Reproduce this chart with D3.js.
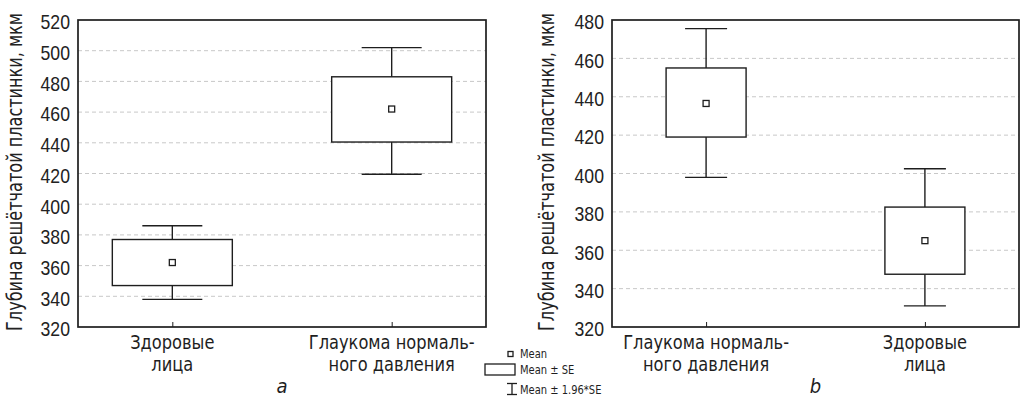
<html>
<head>
  <meta charset="utf-8">
  <script src="https://cdn.jsdelivr.net/npm/d3@7"></script>
</head>
<style>
  body { margin: 0; background: #fff; }
  svg { font-family: "DejaVu Sans Condensed", "Liberation Sans Narrow", "Roboto", sans-serif; }
  .grid line { stroke: #c8c8c8; stroke-dasharray: 4,3; }
  .ylab, .tick text { fill: #222; }
</style>
<body>
  <svg id="chart" width="1024" height="399"></svg>

  <script type="text/javascript">
    // panel a
    var labelsA = [["Здоровые", "лица"], ["Глаукома нормаль-", "ного давления"]];
    var meanA = [362, 462];
    var seLowA = [347, 440.5];
    var seHighA = [377, 483];
    var ciLowA = [338, 419.5];
    var ciHighA = [386, 502];
    var ticksA = [320, 340, 360, 380, 400, 420, 440, 460, 480, 500, 520];

    // panel b
    var labelsB = [["Глаукома нормаль-", "ного давления"], ["Здоровые", "лица"]];
    var meanB = [436.5, 365];
    var seLowB = [419, 347.5];
    var seHighB = [455, 382.5];
    var ciLowB = [398, 331];
    var ciHighB = [475.5, 402.5];
    var ticksB = [320, 340, 360, 380, 400, 420, 440, 460, 480];

    var yTitle = "Глубина решётчатой пластинки, мкм";
    var legendText = ["Mean", "Mean ± SE", "Mean ± 1.96*SE"];

    var svg = d3.select('#chart');
    var ink = '#1e1e1e';

    // the original uses a narrow DIN-like face, squeeze the fallback font a bit
    function narrow(sel, k) {
      sel.each(function () {
        var w = this.getComputedTextLength();
        d3.select(this).attr('textLength', w * k).attr('lengthAdjust', 'spacingAndGlyphs');
      });
    }

    function panel(p) {
      var width = p.x1 - p.x0, height = 307;
      var g = svg.append('g').attr('transform', 'translate(' + p.x0 + ',20)');
      var x = d3.scalePoint()
        .domain(d3.range(p.labels.length))
        .range([0, width])
        .padding(0.43);
      var y = d3.scaleLinear()
        .domain([p.ticks[0], p.ticks[p.ticks.length - 1]])
        .range([height, 0]);

      // dashed grid
      g.append('g').attr('class', 'grid')
        .selectAll('line')
        .data(p.ticks.slice(1, -1))
        .enter()
        .append('line')
        .attr('x1', 0).attr('x2', width)
        .attr('y1', function (d) { return y(d); })
        .attr('y2', function (d) { return y(d); });

      // whiskers + boxes
      var items = p.labels.map(function (l, i) {
        return { i: i, mean: p.mean[i], lo: p.seLow[i], hi: p.seHigh[i], clo: p.ciLow[i], chi: p.ciHigh[i] };
      });
      var box = g.selectAll('.box').data(items).enter().append('g').attr('class', 'box');
      box.append('line')
        .attr('x1', function (d) { return x(d.i); }).attr('x2', function (d) { return x(d.i); })
        .attr('y1', function (d) { return y(d.chi); }).attr('y2', function (d) { return y(d.clo); })
        .attr('stroke', ink).attr('stroke-width', 1.4);
      ['chi', 'clo'].forEach(function (k) {
        box.append('line')
          .attr('x1', function (d) { return x(d.i) - p.cap; }).attr('x2', function (d) { return x(d.i) + p.cap; })
          .attr('y1', function (d) { return y(d[k]); }).attr('y2', function (d) { return y(d[k]); })
          .attr('stroke', ink).attr('stroke-width', 1.4);
      });
      box.append('rect')
        .attr('x', function (d) { return x(d.i) - p.half; })
        .attr('width', p.half * 2)
        .attr('y', function (d) { return y(d.hi); })
        .attr('height', function (d) { return y(d.lo) - y(d.hi); })
        .attr('fill', '#fff').attr('stroke', ink).attr('stroke-width', 1.4);
      box.append('rect')
        .attr('x', function (d) { return x(d.i) - 3; })
        .attr('y', function (d) { return y(d.mean) - 3; })
        .attr('width', 6).attr('height', 6)
        .attr('fill', '#fff').attr('stroke', ink).attr('stroke-width', 1.3);

      // axes
      var yAxis = d3.axisLeft(y).tickValues(p.ticks).tickSize(0).tickPadding(8);
      g.append('g').call(yAxis)
        .call(function (a) { a.select('.domain').remove(); })
        .selectAll('text')
        .attr('font-size', 21)
        .attr('dy', '0.42em')
        .call(narrow, 0.84);
      var xAxis = d3.axisBottom(x).tickSize(-5).tickFormat('');
      g.append('g')
        .attr('transform', 'translate(0,' + height + ')')
        .call(xAxis)
        .call(function (a) { a.select('.domain').remove(); a.selectAll('text').remove(); })
        .selectAll('line').attr('stroke', ink);

      // frame
      g.append('rect')
        .attr('width', width).attr('height', height)
        .attr('fill', 'none').attr('stroke', ink).attr('stroke-width', 1.7);

      // category labels
      p.labels.forEach(function (l, i) {
        l.forEach(function (s, j) {
          g.append('text')
            .attr('text-anchor', 'middle')
            .attr('font-size', 19)
            .attr('fill', ink)
            .attr('x', x(i))
            .attr('y', height + 22 + j * 22.3)
            .text(s)
            .call(narrow, 0.95);
        });
      });

      // y title, squeezed with a transform so it fits 12..332
      var t = svg.append('text')
        .attr('class', 'ylab')
        .attr('text-anchor', 'middle')
        .attr('font-size', 21)
        .text(yTitle);
      var k = 318 / t.node().getComputedTextLength();
      t.attr('transform', 'translate(' + p.tx + ',172) rotate(-90) scale(' + k + ',1)');

      // panel letter
      svg.append('text')
        .attr('x', p.x0 + width / 2)
        .attr('y', 393)
        .attr('text-anchor', 'middle')
        .attr('font-size', 20)
        .attr('font-style', 'italic')
        .attr('fill', ink)
        .text(p.letter);
    }

    panel({ x0: 78, x1: 486, labels: labelsA, mean: meanA, seLow: seLowA, seHigh: seHighA,
            ciLow: ciLowA, ciHigh: ciHighA, ticks: ticksA, half: 60, cap: 30, tx: 22, letter: 'a' });
    panel({ x0: 612, x1: 1019, labels: labelsB, mean: meanB, seLow: seLowB, seHigh: seHighB,
            ciLow: ciLowB, ciHigh: ciHighB, ticks: ticksB, half: 40, cap: 21, tx: 554, letter: 'b' });

    // legend
    var leg = svg.append('g').attr('stroke', ink).attr('fill', 'none').attr('stroke-width', 1.3);
    leg.append('rect').attr('x', 508).attr('y', 351.5).attr('width', 5).attr('height', 5);
    leg.append('rect').attr('x', 485).attr('y', 364).attr('width', 30).attr('height', 11);
    leg.append('line').attr('x1', 507).attr('x2', 517).attr('y1', 383.5).attr('y2', 383.5);
    leg.append('line').attr('x1', 512).attr('x2', 512).attr('y1', 383.5).attr('y2', 394.5);
    leg.append('line').attr('x1', 507).attr('x2', 517).attr('y1', 394.5).attr('y2', 394.5);
    svg.selectAll('.legtext')
      .data(legendText)
      .enter()
      .append('text')
      .attr('x', 520)
      .attr('y', function (d, i) { return [358, 374, 394][i]; })
      .attr('font-size', 13)
      .attr('fill', ink)
      .text(function (d) { return d; })
      .call(narrow, 0.85);
  </script>
</body>
</html>
